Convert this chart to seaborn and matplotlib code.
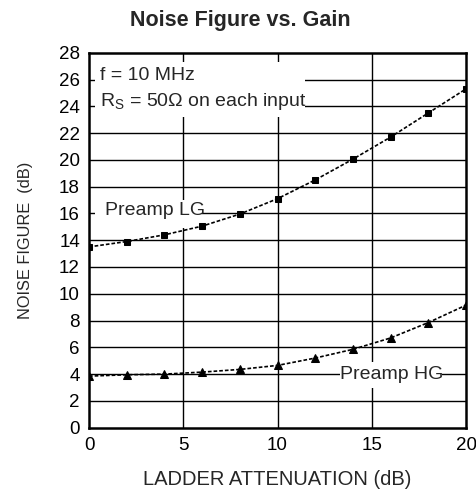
import numpy as np
import pandas as pd
import seaborn as sns
import matplotlib.pyplot as plt
from matplotlib.patches import Rectangle

# --- DATA ---
atten_db = [0, 2, 4, 6, 8, 10, 12, 14, 16, 18, 20]
nf_preamp_lg = [13.5, 13.9, 14.4, 15.05, 15.95, 17.1, 18.5, 20.05, 21.7, 23.5, 25.3]
nf_preamp_hg = [3.85, 3.95, 4.0, 4.15, 4.35, 4.65, 5.2, 5.85, 6.7, 7.85, 9.15]
x_ticks = [0, 5, 10, 15, 20]
y_ticks = list(range(0, 29, 2))

df = pd.DataFrame({'atten': atten_db, 'lg': nf_preamp_lg, 'hg': nf_preamp_hg})

sns.set_style('white')
plt.rcParams['font.family'] = ['Liberation Sans', 'DejaVu Sans']
plt.rcParams['mathtext.fontset'] = 'custom'
plt.rcParams['mathtext.rm'] = 'Liberation Sans'

fig = plt.figure(figsize=(4.77, 4.95), dpi=100)
ax = fig.add_axes([0.1866, 0.136, 0.7904, 0.7575])

# grid by hand so it can sit under the text boxes
for yv in y_ticks[1:-1]:
    ax.axhline(yv, color='black', lw=1.0, zorder=1)
for xv in x_ticks[1:-1]:
    ax.axvline(xv, color='black', lw=1.0, zorder=1)

# white boxes behind labels (hide the grid like in the datasheet)
ax.add_patch(Rectangle((0.3, 23.2), 11.15, 4.1, facecolor='white', edgecolor='none', zorder=2))
ax.add_patch(Rectangle((0.3, 14.9), 5.7, 2.1, facecolor='white', edgecolor='none', zorder=2))
ax.add_patch(Rectangle((13.3, 2.97), 5.4, 1.96, facecolor='white', edgecolor='none', zorder=2))

sns.lineplot(data=df, x='atten', y='lg', ax=ax, color='black', lw=1.2,
             linestyle=(0, (2.2, 1.2)), marker='s', markersize=5,
             markeredgecolor='black', zorder=4)
sns.lineplot(data=df, x='atten', y='hg', ax=ax, color='black', lw=1.2,
             linestyle=(0, (2.2, 1.2)), marker='^', markersize=5.5,
             markeredgecolor='black', zorder=4)

ax.text(0.58, 26.0, 'f = 10 MHz', fontsize=14, zorder=3)
ax.text(0.58, 24.0, r'R$_{\mathregular{S}}$ = 50Ω on each input', fontsize=14, zorder=3)
ax.text(0.85, 15.9, 'Preamp LG', fontsize=14, zorder=3)
ax.text(13.3, 3.94, 'Preamp HG', fontsize=14, va='center', zorder=3)

ax.set_xlim(0, 20)
ax.set_ylim(0, 28)
ax.set_xticks(x_ticks)
ax.set_yticks(y_ticks)
ax.tick_params(axis='both', length=0, labelsize=13.5, colors='black')
ax.tick_params(axis='x', pad=7)
ax.tick_params(axis='y', pad=6.5)
for sp in ax.spines.values():
    sp.set_color('black')
    sp.set_linewidth(1.8)

ax.set_xlabel('LADDER ATTENUATION (dB)', fontsize=14.5, labelpad=11)
ax.set_ylabel('NOISE FIGURE  (dB)', fontsize=11.8, labelpad=19)
# title sits centred on the whole figure, not the axes
ax.set_title('Noise Figure vs. Gain', fontsize=15.5, fontweight='bold', pad=19, x=0.40)

fig.savefig('out.png', dpi=100)
